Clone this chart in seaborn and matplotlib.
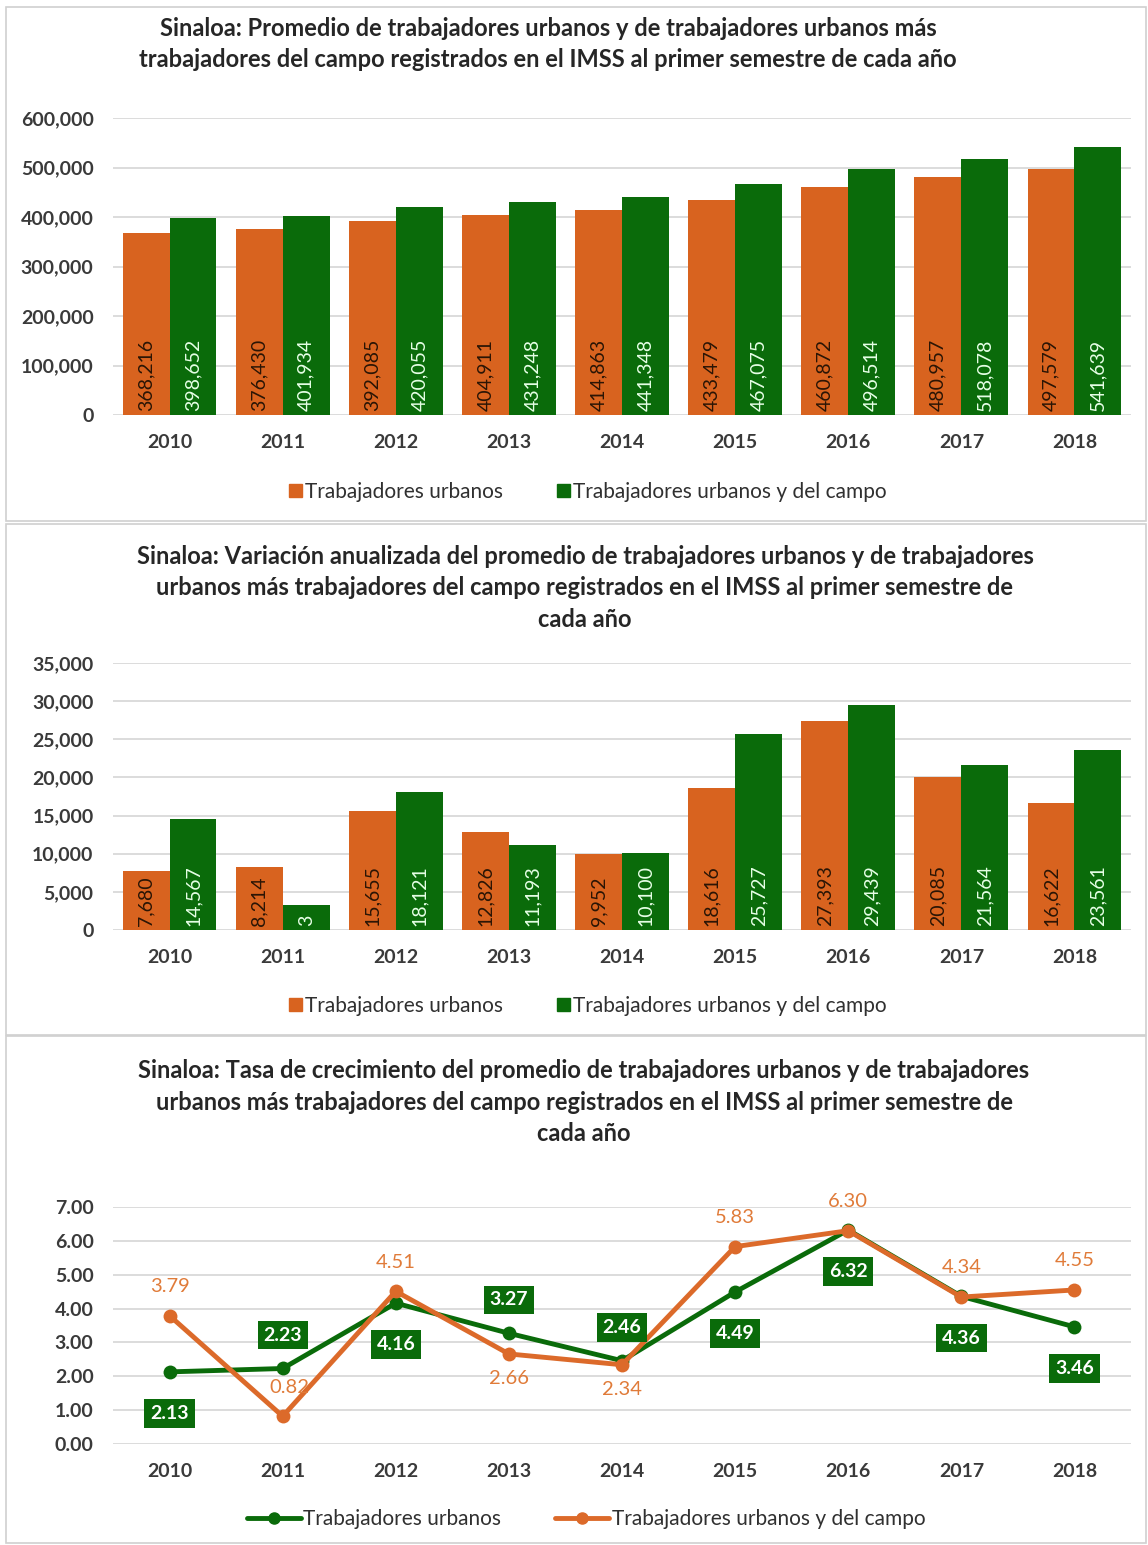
import matplotlib
matplotlib.use("Agg")
import matplotlib.pyplot as plt
import seaborn as sns
import pandas as pd
from matplotlib.patches import Rectangle, Patch
from matplotlib.lines import Line2D
from matplotlib.ticker import FuncFormatter

# ---------------- data ----------------
years = [2010, 2011, 2012, 2013, 2014, 2015, 2016, 2017, 2018]
series_names = ["Trabajadores urbanos", "Trabajadores urbanos y del campo"]

urbanos_prom = [368216, 376430, 392085, 404911, 414863, 433479, 460872, 480957, 497579]
campo_prom = [398652, 401934, 420055, 431248, 441348, 467075, 496514, 518078, 541639]

urbanos_var = [7680, 8214, 15655, 12826, 9952, 18616, 27393, 20085, 16622]
campo_var = [14567, 3282, 18121, 11193, 10100, 25727, 29439, 21564, 23561]
campo_var_labels = ["14,567", "3", "18,121", "11,193", "10,100", "25,727", "29,439", "21,564", "23,561"]

urbanos_tasa = [2.13, 2.23, 4.16, 3.27, 2.46, 4.49, 6.32, 4.36, 3.46]
campo_tasa = [3.79, 0.82, 4.51, 2.66, 2.34, 5.83, 6.30, 4.34, 4.55]
urbanos_tasa_pos = ["below", "above", "below", "above", "above", "below", "below", "below", "below"]
campo_tasa_pos = ["above", "above", "above", "below", "below", "above", "above", "above", "above"]

titles = [
    "Sinaloa: Promedio de trabajadores urbanos y de trabajadores urbanos más\n"
    "trabajadores del campo registrados en el IMSS al primer semestre de cada año",
    "Sinaloa: Variación anualizada del promedio de trabajadores urbanos y de trabajadores\n"
    "urbanos más trabajadores del campo registrados en el IMSS al primer semestre de\ncada año",
    "Sinaloa: Tasa de crecimiento del promedio de trabajadores urbanos y de trabajadores\n"
    "urbanos más trabajadores del campo registrados en el IMSS al primer semestre de\ncada año",
]

ORANGE = "#D8631F"
GREEN = "#0A6B0A"
LINE_ORANGE = "#DC6A2A"
TXT = "#262626"
TICK = "#3A3A3A"
GRID = "#D9D9D9"

sns.set_theme(style="white")
plt.rcParams["font.family"] = ["Lato", "DejaVu Sans"]

W, H = 1148, 1545
fig = plt.figure(figsize=(W / 100, H / 100), dpi=100)


def fy(py):
    return 1 - py / H


def fx(px):
    return px / W


# panel borders
for (y0, y1) in [(7, 521), (524, 1035), (1036, 1543)]:
    fig.patches.append(Rectangle((fx(6), fy(y1)), fx(1146) - fx(6), fy(y0) - fy(y1),
                                 transform=fig.transFigure, fill=False,
                                 edgecolor="#D0D0D0", lw=1.2))

palette = {series_names[0]: ORANGE, series_names[1]: GREEN}
TITLE_FS = 17


def style_axes(ax, ymax, step, fmt):
    ax.set_ylim(0, ymax)
    ax.set_yticks([i * step for i in range(int(round(ymax / step)) + 1)])
    ax.yaxis.set_major_formatter(FuncFormatter(fmt))
    ax.grid(axis="y", color=GRID, lw=1.3)
    ax.set_axisbelow(True)
    for s in ax.spines.values():
        s.set_visible(False)
    ax.tick_params(axis="y", length=0, labelsize=14, colors=TICK, pad=14)
    ax.tick_params(axis="x", length=0, labelsize=14, colors=TICK, pad=14)
    for lab in ax.get_xticklabels() + ax.get_yticklabels():
        lab.set_fontweight("bold")
    ax.set_xlabel("")
    ax.set_ylabel("")


def bar_panel(ax, u_vals, c_vals, c_labels, ymax, step, offset):
    df = pd.DataFrame({
        "Año": [str(y) for y in years] * 2,
        "Valor": u_vals + c_vals,
        "Serie": [series_names[0]] * len(years) + [series_names[1]] * len(years),
    })
    sns.barplot(data=df, x="Año", y="Valor", hue="Serie", hue_order=series_names,
                palette=palette, width=0.83, gap=0, saturation=1, ax=ax,
                edgecolor="none", linewidth=0, legend=False)
    ax.set_xlim(-0.5, len(years) - 0.5)
    u_labels = [f"{v:,}" for v in u_vals]
    for cont, labs, col in zip(ax.containers, [u_labels, c_labels], ["#2A1505", "#E6FFE6"]):
        for p, lab in zip(cont.patches, labs):
            ax.text(p.get_x() + p.get_width() / 2, offset, lab, rotation=90,
                    ha="center", va="bottom", fontsize=14, color=col)
    style_axes(ax, ymax, step, lambda v, _: f"{int(v):,}")


# ---------- panel 1 ----------
ax1 = fig.add_axes([fx(113), fy(415), fx(1131) - fx(113), fy(118) - fy(415)])
bar_panel(ax1, urbanos_prom, campo_prom, [f"{v:,}" for v in campo_prom], 600000, 100000, 8000)
fig.text(fx(548), fy(44), titles[0], ha="center", va="center", fontsize=TITLE_FS,
         fontweight="bold", color=TXT, linespacing=1.45)

# ---------- panel 2 ----------
ax2 = fig.add_axes([fx(113), fy(930), fx(1131) - fx(113), fy(663) - fy(930)])
bar_panel(ax2, urbanos_var, campo_var, campo_var_labels, 35000, 5000, 500)
fig.text(fx(585), fy(588), titles[1], ha="center", va="center", fontsize=TITLE_FS,
         fontweight="bold", color=TXT, linespacing=1.45)

# ---------- panel 3 ----------
ax3 = fig.add_axes([fx(113), fy(1444), fx(1131) - fx(113), fy(1207) - fy(1444)])
df3 = pd.DataFrame({
    "Año": years * 2,
    "Tasa": urbanos_tasa + campo_tasa,
    "Serie": [series_names[0]] * len(years) + [series_names[1]] * len(years),
})
line_pal = {series_names[0]: GREEN, series_names[1]: LINE_ORANGE}
sns.lineplot(data=df3, x="Año", y="Tasa", hue="Serie", hue_order=series_names,
             palette=line_pal, marker="o", markersize=10, linewidth=3.5,
             markeredgewidth=0, ax=ax3, legend=False)
ax3.set_xlim(2009.5, 2018.5)
ax3.set_xticks(years)
style_axes(ax3, 7, 1, lambda v, _: f"{v:.2f}")
for x, v, pos in zip(years, urbanos_tasa, urbanos_tasa_pos):
    dy = -30 if pos == "below" else 24
    ax3.annotate(f"{v:.2f}", (x, v), xytext=(0, dy), textcoords="offset points",
                 ha="center", va="center", fontsize=14, fontweight="bold", color="white",
                 bbox=dict(boxstyle="square,pad=0.3", fc=GREEN, ec="none"))
for x, v, pos in zip(years, campo_tasa, campo_tasa_pos):
    dy = -18 if pos == "below" else 21
    dx = 5 if x == 2011 else 0
    ax3.annotate(f"{v:.2f}", (x, v), xytext=(dx, dy), textcoords="offset points",
                 ha="center", va="center", fontsize=14.5, color="#E07B39")
fig.text(fx(584), fy(1102), titles[2], ha="center", va="center", fontsize=TITLE_FS,
         fontweight="bold", color=TXT, linespacing=1.45)

# ---------- legends ----------
bar_handles = [Patch(color=ORANGE), Patch(color=GREEN)]
for yc in (492, 1006):
    fig.legend(bar_handles, series_names, loc="center", ncol=2,
               bbox_to_anchor=(fx(588), fy(yc)), frameon=False, fontsize=15,
               handlelength=0.6, handleheight=0.6, handletextpad=0.15,
               columnspacing=2.6, labelcolor="#303030")
line_handles = [Line2D([], [], color=GREEN, lw=3.5, marker="o", markersize=8),
                Line2D([], [], color=LINE_ORANGE, lw=3.5, marker="o", markersize=8)]
fig.legend(line_handles, series_names, loc="center", ncol=2,
           bbox_to_anchor=(fx(586), fy(1519)), frameon=False, fontsize=15,
           handlelength=2.6, handletextpad=0.1, columnspacing=2.6, labelcolor="#303030")

fig.savefig("out.png", dpi=100)
